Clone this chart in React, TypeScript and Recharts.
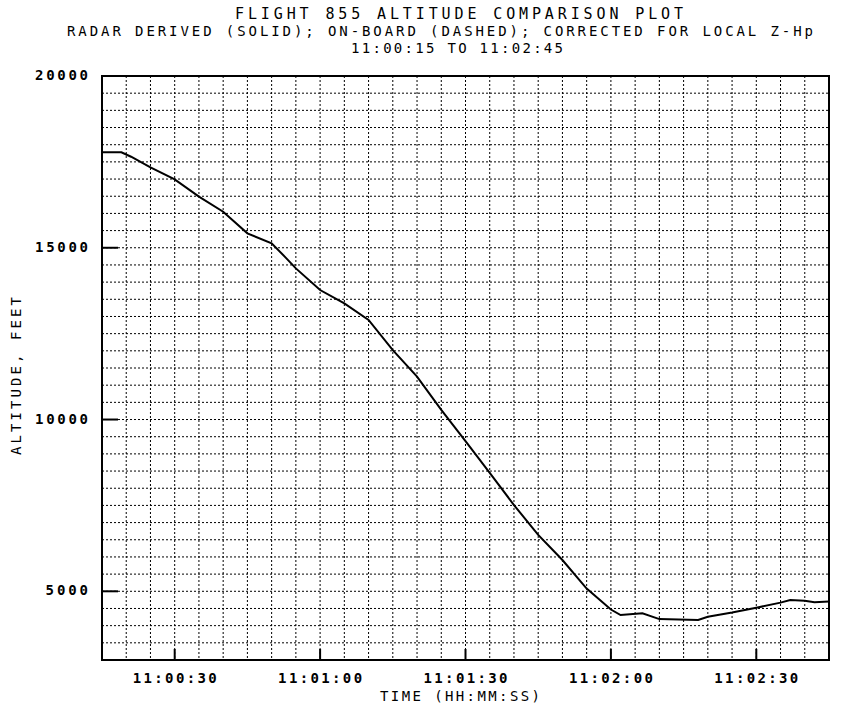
import { LineChart, Line, XAxis, YAxis, CartesianGrid, ReferenceArea } from 'recharts';

// seconds after 11:00:00
const timeSec = [15, 19, 21, 25, 30, 35, 40, 45, 50, 53, 55, 60, 65, 70, 75, 80, 85, 90, 95, 100, 105, 110, 115, 120, 122, 126.5, 130, 138, 140, 145, 150, 155, 157, 160, 162, 165];
const altitudeFt = [17780, 17780, 17650, 17340, 16990, 16490, 16050, 15420, 15130, 14700, 14400, 13770, 13380, 12900, 12020, 11250, 10280, 9370, 8450, 7510, 6640, 5910, 5080, 4470, 4310, 4360, 4190, 4165, 4260, 4380, 4520, 4670, 4745, 4725, 4680, 4700];

const majorTimes = [30, 60, 90, 120, 150];
const timeLabels = ['11:00:30', '11:01:00', '11:01:30', '11:02:00', '11:02:30'];
const majorAlts = [5000, 10000, 15000, 20000];
const altLabels = ['5000', '10000', '15000', '20000'];

const titleLines = [
  'FLIGHT 855 ALTITUDE COMPARISON PLOT',
  'RADAR DERIVED (SOLID); ON-BOARD (DASHED); CORRECTED FOR LOCAL Z-Hp',
  '11:00:15 TO 11:02:45',
];

const FONT = '"DejaVu Sans Mono", monospace';

// grid every 5 s and every 500 ft
const gridTimes = Array.from({ length: 31 }, (_, i) => 15 + i * 5);
const gridAlts = Array.from({ length: 35 }, (_, i) => 3000 + i * 500);

const data = timeSec.map((t, i) => ({ t, alt: altitudeFt[i] }));

const TimeTick = ({ x, y, payload }: any) => {
  const idx = majorTimes.indexOf(payload.value);
  if (idx < 0) return null;
  return (
    <g>
      <line x1={x} y1={y} x2={x} y2={y - 11} stroke="#000" strokeWidth={2} />
      <text
        x={x}
        y={y + 19}
        textAnchor="middle"
        dominantBaseline="middle"
        fontFamily={FONT}
        fontWeight={700}
        fontSize={14}
        textLength={84}
        lengthAdjust="spacing"
        fill="#000"
      >
        {timeLabels[idx]}
      </text>
    </g>
  );
};

const AltTick = ({ x, y, payload }: any) => {
  const idx = majorAlts.indexOf(payload.value);
  if (idx < 0) return null;
  const label = altLabels[idx];
  return (
    <g>
      <line x1={x} y1={y} x2={x + 16} y2={y} stroke="#000" strokeWidth={2} />
      <text
        x={x - 14}
        y={y}
        textAnchor="end"
        dominantBaseline="middle"
        fontFamily={FONT}
        fontWeight={700}
        fontSize={14}
        textLength={label.length * 10.6}
        lengthAdjust="spacing"
        fill="#000"
      >
        {label}
      </text>
    </g>
  );
};

export default function App() {
  return (
    <div style={{ position: 'absolute', left: 0, top: 0, width: 854, height: 712, background: '#fff' }}>
      <LineChart width={854} height={712} data={data} margin={{ top: 76, right: 25, bottom: 12, left: 10 }}>
        <CartesianGrid stroke="#000" strokeWidth={1} strokeDasharray="2 2" />
        <XAxis
          type="number"
          dataKey="t"
          domain={[15, 165]}
          ticks={gridTimes}
          interval={0}
          tick={<TimeTick />}
          tickLine={false}
          tickSize={0}
          tickMargin={0}
          axisLine={false}
          height={40}
        />
        <YAxis
          type="number"
          domain={[3000, 20000]}
          ticks={gridAlts}
          interval={0}
          tick={<AltTick />}
          tickLine={false}
          tickSize={0}
          tickMargin={0}
          axisLine={false}
          width={92}
        />
        <ReferenceArea x1={15} x2={165} y1={3000} y2={20000} stroke="#000" strokeWidth={2} fill="none" fillOpacity={0} />
        <Line type="linear" dataKey="alt" stroke="#000" strokeWidth={2} dot={false} isAnimationActive={false} />
      </LineChart>
      <svg width={854} height={712} style={{ position: 'absolute', left: 0, top: 0, pointerEvents: 'none' }}>
        <text x={459} y={14} textAnchor="middle" dominantBaseline="middle" fontFamily={FONT} fontSize={15} textLength={448} lengthAdjust="spacing" fill="#000">
          {titleLines[0]}
        </text>
        <text x={440} y={32} textAnchor="middle" dominantBaseline="middle" fontFamily={FONT} fontSize={14} textLength={746} lengthAdjust="spacing" fill="#000">
          {titleLines[1]}
        </text>
        <text x={457} y={49} textAnchor="middle" dominantBaseline="middle" fontFamily={FONT} fontSize={14} textLength={212} lengthAdjust="spacing" fill="#000">
          {titleLines[2]}
        </text>
        <text x={460} y={697} textAnchor="middle" dominantBaseline="middle" fontFamily={FONT} fontSize={14} textLength={160} lengthAdjust="spacing" fill="#000">
          TIME (HH:MM:SS)
        </text>
        <text
          x={17}
          y={376}
          textAnchor="middle"
          dominantBaseline="middle"
          fontFamily={FONT}
          fontSize={14}
          textLength={158}
          lengthAdjust="spacing"
          transform="rotate(-90 17 376)"
          fill="#000"
        >
          ALTITUDE, FEET
        </text>
      </svg>
    </div>
  );
}
